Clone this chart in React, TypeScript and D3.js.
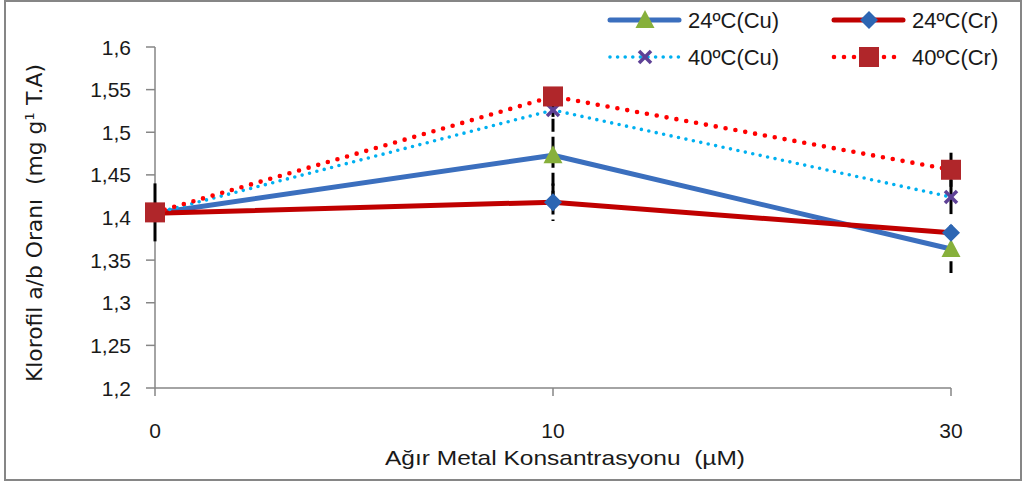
import React from "react";
import * as d3 from "d3";

// Heavy-metal concentration categories (µM)
const categories = ["0", "10", "30"];

// Chlorophyll a/b ratio per series
const cu24 = [1.405, 1.473, 1.363];
const cr24 = [1.405, 1.418, 1.382];
const cu40 = [1.405, 1.526, 1.424];
const cr40 = [1.406, 1.542, 1.456];

// Error bar half-widths per series
const cu24Err = [0.01, 0.064, 0.028];
const cr24Err = [0.01, 0.022, 0.005];
const cu40Err = [0.01, 0.008, 0.02];
const cr40Err = [0.034, 0.008, 0.02];

const yTicks = [1.2, 1.25, 1.3, 1.35, 1.4, 1.45, 1.5, 1.55, 1.6];

const seriesNames = ["24ºC(Cu)", "24ºC(Cr)", "40ºC(Cu)", "40ºC(Cr)"];

type Marker = "triangle" | "diamond" | "x" | "square";

interface Series {
  name: string;
  values: number[];
  errors: number[];
  lineColor: string;
  lineWidth: number;
  dash: string | null;
  marker: Marker;
  markerColor: string;
  errDash: string | null;
}

const series: Series[] = [
  { name: seriesNames[0], values: cu24, errors: cu24Err, lineColor: "#3b6fbe", lineWidth: 5, dash: null, marker: "triangle", markerColor: "#87b03b", errDash: "13 5" },
  { name: seriesNames[1], values: cr24, errors: cr24Err, lineColor: "#c00000", lineWidth: 5, dash: null, marker: "diamond", markerColor: "#2d66b3", errDash: "13 5" },
  { name: seriesNames[2], values: cu40, errors: cu40Err, lineColor: "#00b0f0", lineWidth: 3.6, dash: "0 7.6", marker: "x", markerColor: "#5e4196", errDash: null },
  { name: seriesNames[3], values: cr40, errors: cr40Err, lineColor: "#ff0000", lineWidth: 4.6, dash: "0 10", marker: "square", markerColor: "#b0262a", errDash: null },
];

const W = 1025;
const H = 487;
const axisColor = "#868686";
const labelFont = "'Liberation Sans', Arial, sans-serif";

const x = d3.scalePoint<string>().domain(categories).range([155, 951]).padding(0);
const y = d3.scaleLinear().domain([1.2, 1.6]).range([388, 47]);

function MarkerShape({ kind, cx, cy, color }: { kind: Marker; cx: number; cy: number; color: string }) {
  if (kind === "triangle") {
    const p = d3.path();
    p.moveTo(cx, cy - 10);
    p.lineTo(cx + 9.5, cy + 8);
    p.lineTo(cx - 9.5, cy + 8);
    p.closePath();
    return <path d={p.toString()} fill={color} />;
  }
  if (kind === "diamond") {
    const r = 9;
    const p = d3.path();
    p.moveTo(cx, cy - r);
    p.lineTo(cx + r, cy);
    p.lineTo(cx, cy + r);
    p.lineTo(cx - r, cy);
    p.closePath();
    return <path d={p.toString()} fill={color} />;
  }
  if (kind === "square") {
    return <rect x={cx - 10} y={cy - 10} width={20} height={20} fill={color} />;
  }
  const r = 6;
  return (
    <g stroke={color} strokeWidth={3.6} strokeLinecap="butt">
      <line x1={cx - r} y1={cy - r} x2={cx + r} y2={cy + r} />
      <line x1={cx - r} y1={cy + r} x2={cx + r} y2={cy - r} />
    </g>
  );
}

export default function App() {
  const line = d3
    .line<number>()
    .x((_, i) => x(categories[i]) as number)
    .y((v) => y(v));

  const legendCols = [610, 834];
  const legendRows = [20, 57];

  return (
    <div style={{ position: "absolute", left: 0, top: 0 }}>
      <svg width={W} height={H} style={{ display: "block" }}>
        <rect x={0} y={0} width={W} height={H} fill="#ffffff" />
        <rect x={5} y={1} width={1016} height={479} fill="none" stroke={axisColor} strokeWidth={2} />

        {/* y axis */}
        <line x1={155} y1={y(1.6)} x2={155} y2={y(1.2)} stroke={axisColor} strokeWidth={1.5} />
        {yTicks.map((t) => (
          <g key={t}>
            <line x1={146} x2={155} y1={y(t)} y2={y(t)} stroke={axisColor} strokeWidth={1.5} />
            <text
              x={131}
              y={y(t) + 7.5}
              textAnchor="end"
              fontFamily={labelFont}
              fontSize={21}
              fill="#1a1a1a"
            >
              {String(t).replace(".", ",")}
            </text>
          </g>
        ))}

        {/* x axis */}
        <line x1={155} y1={y(1.2)} x2={951} y2={y(1.2)} stroke={axisColor} strokeWidth={1.5} />
        {categories.map((c) => (
          <g key={c}>
            <line x1={x(c)} x2={x(c)} y1={y(1.2)} y2={y(1.2) + 8} stroke={axisColor} strokeWidth={1.5} />
            <text x={x(c)} y={438} textAnchor="middle" fontFamily={labelFont} fontSize={21} fill="#1a1a1a">
              {c}
            </text>
          </g>
        ))}

        {/* axis titles */}
        <text
          x={565}
          y={465}
          textAnchor="middle"
          fontFamily={labelFont}
          fontSize={21}
          fill="#1a1a1a"
          textLength={360}
          lengthAdjust="spacingAndGlyphs"
        >
          Ağır Metal Konsantrasyonu{"\u00a0\u00a0"}(µM)
        </text>
        <text
          transform="translate(42,223) rotate(-90)"
          textAnchor="middle"
          fontFamily="'DejaVu Sans', Verdana, sans-serif"
          fontSize={21}
          fill="#1a1a1a"
          textLength={318}
          lengthAdjust="spacingAndGlyphs"
        >
          Klorofil a/b Oranı{"\u00a0\u00a0"}(mg g
          <tspan fontSize={13} dy={-8}>1</tspan>
          <tspan dy={8}>{"\u00a0"}T.A)</tspan>
        </text>

        {/* error bars */}
        {series.map((s) =>
          s.values.map((v, i) => (
            <line
              key={s.name + i}
              x1={x(categories[i])}
              x2={x(categories[i])}
              y1={y(v + s.errors[i])}
              y2={y(v - s.errors[i])}
              stroke="#000000"
              strokeWidth={3}
              strokeDasharray={s.errDash ?? undefined}
            />
          ))
        )}

        {/* series lines and markers */}
        {series.map((s) => (
          <g key={s.name}>
            <path
              d={line(s.values) ?? ""}
              fill="none"
              stroke={s.lineColor}
              strokeWidth={s.lineWidth}
              strokeDasharray={s.dash ?? undefined}
              strokeLinecap={s.dash ? "round" : "butt"}
              strokeLinejoin="round"
            />
            {s.values.map((v, i) => (
              <MarkerShape key={i} kind={s.marker} cx={x(categories[i]) as number} cy={y(v)} color={s.markerColor} />
            ))}
          </g>
        ))}

        {/* legend */}
        {series.map((s, i) => {
          const lx = legendCols[i % 2];
          const ly = legendRows[Math.floor(i / 2)];
          return (
            <g key={"lg" + s.name}>
              <line
                x1={lx}
                x2={lx + 69}
                y1={ly}
                y2={ly}
                stroke={s.lineColor}
                strokeWidth={s.lineWidth}
                strokeDasharray={s.dash ?? undefined}
                strokeLinecap="round"
              />
              <MarkerShape kind={s.marker} cx={lx + 35} cy={ly} color={s.markerColor} />
              <text x={lx + 78} y={ly + 8} fontFamily={labelFont} fontSize={22} fill="#1a1a1a">
                {s.name}
              </text>
            </g>
          );
        })}
      </svg>
    </div>
  );
}
